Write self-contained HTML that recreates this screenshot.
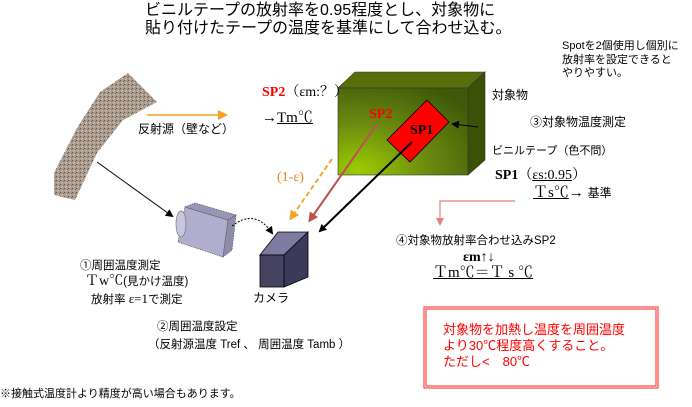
<!DOCTYPE html>
<html><head><meta charset="utf-8"><style>
body{margin:0;width:692px;height:407px;background:#fff;position:relative;overflow:hidden;font-family:"Liberation Sans","Noto Sans CJK JP",sans-serif;color:#000}
.t{position:absolute;white-space:nowrap;line-height:1}
.s{font-family:"Liberation Serif","Noto Serif CJK SC",serif}
</style></head><body>
<svg width="692" height="407" style="position:absolute;left:0;top:0">
<defs>
<pattern id="gr" width="4" height="4" patternUnits="userSpaceOnUse">
<rect width="4" height="4" fill="#a89a8c"/><rect x="0" y="0" width="1" height="1" fill="#5a4e46"/><rect x="2" y="2" width="1" height="1" fill="#d8ccc0"/><rect x="3" y="1" width="1" height="1" fill="#7e7166"/><rect x="1" y="3" width="1" height="1" fill="#c8bcb0"/>
</pattern>
<radialGradient id="gf" cx="0.15" cy="0.95" r="1.1"><stop offset="0" stop-color="#9ccc00"/><stop offset="0.5" stop-color="#6a8a10"/><stop offset="1" stop-color="#3e5a08"/></radialGradient>
<marker id="ab" markerWidth="8" markerHeight="8" refX="6" refY="4" orient="auto" markerUnits="userSpaceOnUse"><path d="M0,0 L8,4 L0,8 z" fill="#000"/></marker>
<marker id="ar" markerWidth="10" markerHeight="10" refX="7" refY="5" orient="auto" markerUnits="userSpaceOnUse"><path d="M0,0 L10,5 L0,10 z" fill="#c0504d"/></marker>
<marker id="ao" markerWidth="10" markerHeight="10" refX="7" refY="5" orient="auto" markerUnits="userSpaceOnUse"><path d="M0,0 L10,5 L0,10 z" fill="#f5a020"/></marker>
<marker id="ap" markerWidth="8" markerHeight="8" refX="6" refY="4" orient="auto" markerUnits="userSpaceOnUse"><path d="M0,0 L8,4 L0,8 z" fill="#e08080"/></marker>
</defs>
<path d="M54,173 L77,128 L100,92 L128,73 L157,102 L123,120 L97,153 L75,200 L54,195 Z" fill="url(#gr)"/>
<line x1="147" y1="115" x2="225" y2="115" stroke="#f5a020" stroke-width="1.5" marker-end="url(#ao)"/>
<line x1="97" y1="162" x2="172" y2="216" stroke="#000" stroke-width="1" marker-end="url(#ab)"/>
<polygon points="185,207 228,220 223,257 178,242" fill="#b0aecc" stroke="#555" stroke-width="0.7" stroke-dasharray="1.5,1"/>
<polygon points="185,207 195,203 236,215 228,220" fill="#9896b6" stroke="#555" stroke-width="0.7" stroke-dasharray="1.5,1"/>
<polygon points="228,220 236,215 232,250 223,257" fill="#8e8cae" stroke="#555" stroke-width="0.7" stroke-dasharray="1.5,1"/>
<ellipse cx="181" cy="224" rx="5" ry="13" fill="#c8c6de" stroke="#777" stroke-width="0.7"/>
<path d="M232,226 Q255,208 272,233" fill="none" stroke="#000" stroke-width="1" stroke-dasharray="2,1.5" marker-end="url(#ab)"/>
<polygon points="338,88 355,72 485,72 468,88" fill="#55700a" stroke="#333" stroke-width="0.6"/>
<polygon points="468,88 485,72 485,160 468,175" fill="#3b5206" stroke="#333" stroke-width="0.6"/>
<rect x="338" y="88" width="130" height="87" fill="url(#gf)" stroke="#333" stroke-width="0.6"/>
<polygon points="427,100 449,122 410,162 387,140" fill="#ff0000" stroke="#000" stroke-width="0.8"/>
<line x1="478" y1="127" x2="453" y2="124" stroke="#000" stroke-width="1" marker-end="url(#ab)"/>
<line x1="332" y1="159" x2="291" y2="218" stroke="#f5a020" stroke-width="1.8" stroke-dasharray="5,3" marker-end="url(#ao)"/>
<line x1="377" y1="124" x2="310" y2="220" stroke="#c0504d" stroke-width="2" marker-end="url(#ar)"/>
<line x1="412" y1="142" x2="320" y2="231" stroke="#000" stroke-width="2" marker-end="url(#ab)"/>
<polygon points="260,255 278,232 308,232 284,255" fill="#7e7ba0" stroke="#000" stroke-width="0.8"/>
<polygon points="284,255 308,232 308,277 284,287" fill="#3c3a5a" stroke="#000" stroke-width="0.8"/>
<rect x="260" y="255" width="24" height="32" fill="#45435f" stroke="#000" stroke-width="0.8"/>
<polyline points="515,201 440,201 440,224" fill="none" stroke="#e08080" stroke-width="1.2" marker-end="url(#ap)"/>
<rect x="424" y="307" width="234" height="81" fill="none" stroke="#ff2020" stroke-width="1"/>
<rect x="426" y="309" width="230" height="77" fill="none" stroke="#ff2020" stroke-width="1"/>
</svg>
<div class="t" style="left:145px;top:2px;font-size:16px;line-height:18px">ビニルテープの放射率を0.95程度とし、対象物に<br>貼り付けたテープの温度を基準にして合わせ込む。</div>
<div class="t" style="left:562px;top:40px;font-size:11px;line-height:13.5px">Spotを2個使用し個別に<br>放射率を設定できると<br>やりやすい。</div>
<div class="t" style="left:138px;top:123px;font-size:12px">反射源（壁など）</div>
<div class="t s" style="left:262px;top:86px;font-size:14px"><b style="color:#ff0000">SP2</b>（εm:？）</div>
<div class="t s" style="left:262px;top:111px;font-size:15px">→<u>Tm℃</u></div>
<div class="t s" style="left:369px;top:108px;font-size:14px;color:#ff0000;font-weight:bold">SP2</div>
<div class="t s" style="left:410px;top:124px;font-size:14px;font-weight:bold">SP1</div>
<div class="t" style="left:492px;top:89px;font-size:12px">対象物</div>
<div class="t" style="left:530px;top:116px;font-size:12px">③対象物温度測定</div>
<div class="t" style="left:492px;top:146px;font-size:11px">ビニルテープ（色不問）</div>
<div class="t s" style="left:495px;top:169px;font-size:14px"><b>SP1</b>（<u>εs:0.95</u>）</div>
<div class="t s" style="left:533px;top:186px;font-size:15px"><u>Ｔs℃</u>→ <span style="font-family:'Liberation Sans','Noto Sans CJK JP',sans-serif;font-size:12px">基準</span></div>
<div class="t s" style="left:277px;top:171px;font-size:14px;color:#f08020">(1-ε)</div>
<div class="t" style="left:396px;top:236px;font-size:11.5px">④対象物放射率合わせ込みSP2</div>
<div class="t s" style="left:463px;top:251px;font-size:14px;font-weight:bold">εm↑↓</div>
<div class="t s" style="left:433px;top:266px;font-size:15px"><u>Ｔm℃＝Ｔ s ℃</u></div>
<div class="t" style="left:80px;top:261px;font-size:11.5px">①周囲温度測定</div>
<div class="t s" style="left:85px;top:275px;font-size:14px">Ｔw℃<span style="font-family:'Liberation Sans','Noto Sans CJK JP',sans-serif;font-size:11.5px">(見かけ温度)</span></div>
<div class="t" style="left:91px;top:292px;font-size:11.5px">放射率 <span class="s" style="font-size:13px">ε=1</span>で測定</div>
<div class="t" style="left:253px;top:292px;font-size:12px">カメラ</div>
<div class="t" style="left:157px;top:322px;font-size:11.5px">②周囲温度設定</div>
<div class="t" style="left:148px;top:340px;font-size:11.5px">（反射源温度 Tref 、 周囲温度 Tamb ）</div>
<div class="t" style="left:0px;top:389px;font-size:11px">※接触式温度計より精度が高い場合もあります。</div>
<div class="t" style="left:443px;top:322px;font-size:13px;line-height:16px;color:#ff0000">対象物を加熱し温度を周囲温度<br>より30℃程度高くすること。<br>ただし&lt;　80℃</div>
</body></html>
